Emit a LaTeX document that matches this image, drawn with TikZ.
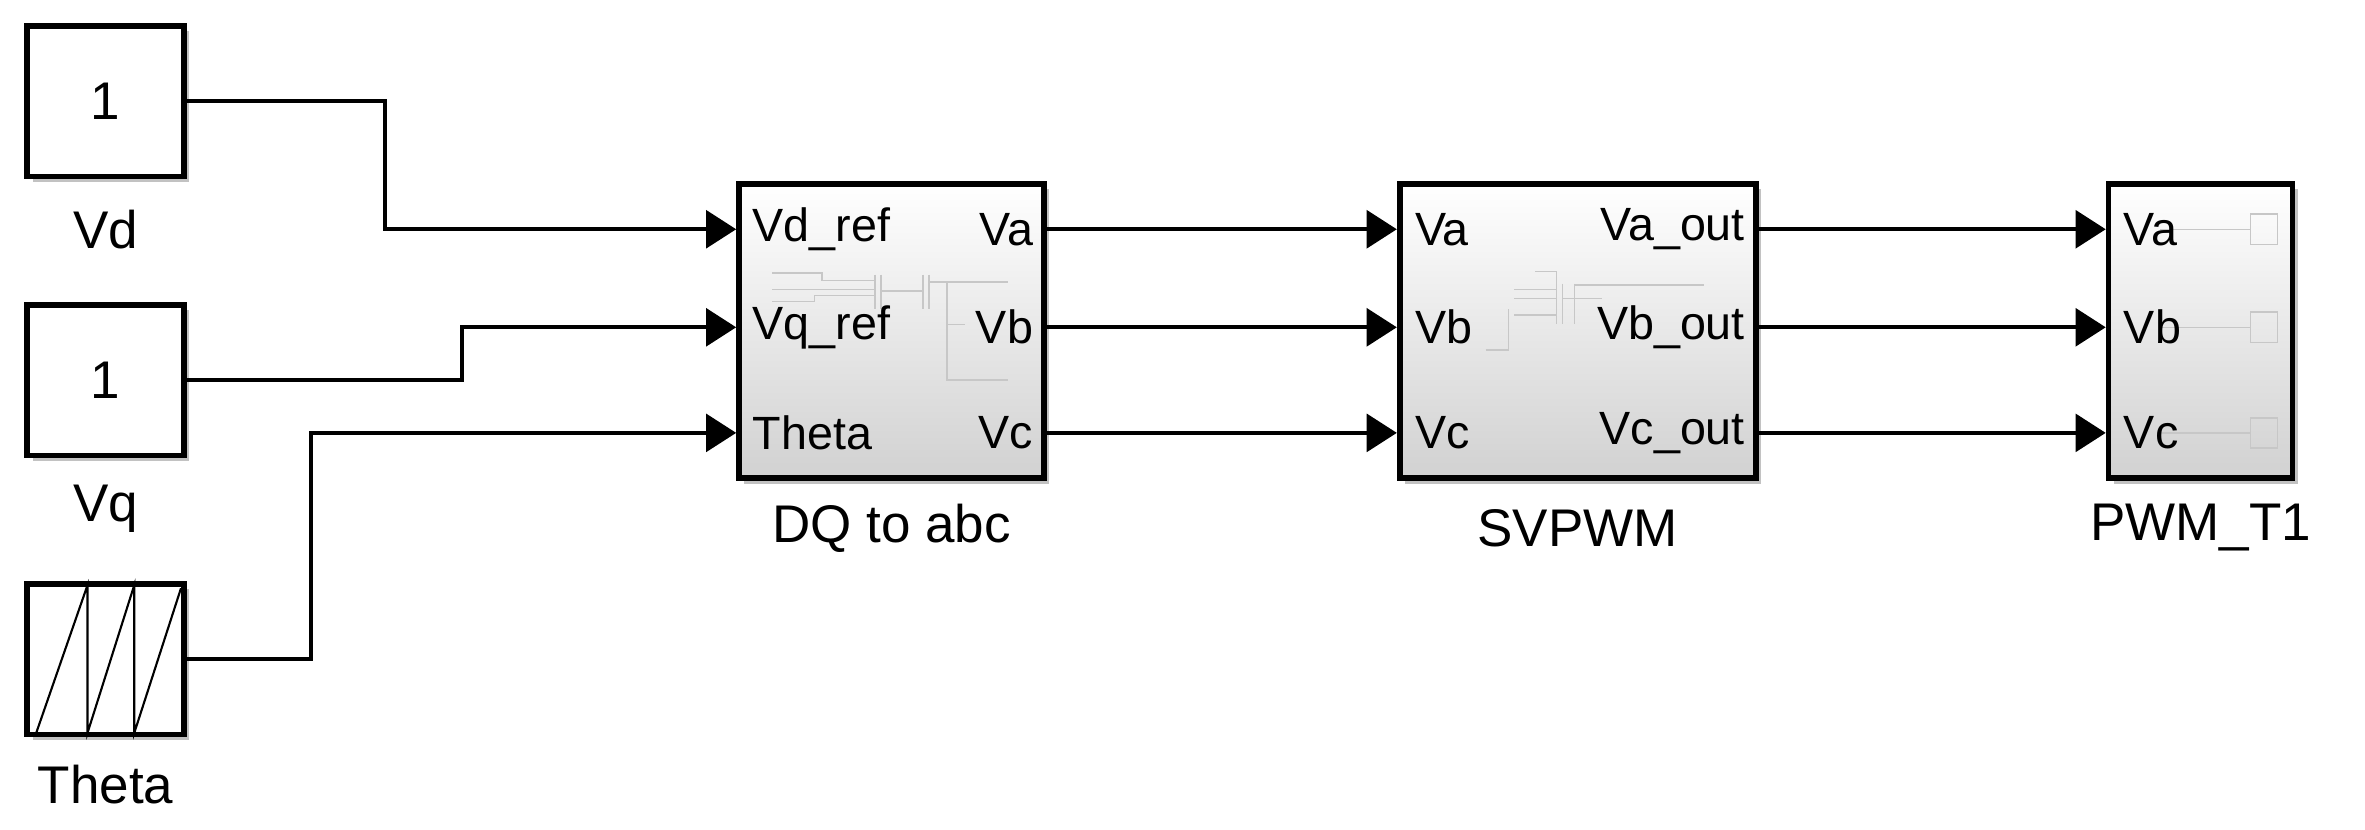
\documentclass[tikz,border=0pt]{standalone}
\usepackage{fontspec}
\setmainfont{Liberation Sans}
\usetikzlibrary{arrows.meta,shadows}
\begin{document}
\begin{tikzpicture}[x=0.5mm,y=-0.5mm,
  txt/.style={font=\fontsize{44}{50}\selectfont, inner sep=0pt},
  lbl/.style={font=\fontsize{50}{56}\selectfont, inner sep=0pt},
  src/.style={draw=black, line width=1.9mm, fill=white, minimum width=52mm, minimum height=50mm, inner sep=0pt,
     drop shadow={shadow xshift=1.8mm, shadow yshift=-1.8mm, fill=black!40, opacity=0.6}},
  blk/.style={draw=black, line width=1.9mm, top color=white, bottom color=black!18, inner sep=0pt,
     drop shadow={shadow xshift=1.8mm, shadow yshift=-1.8mm, fill=black!40, opacity=0.6}},
  wire/.style={line width=1.3mm},
  sig/.style={wire, -{Triangle[length=10mm,width=12.5mm]}},
  icon/.style={draw=black!22, line width=0.5mm}]
\useasboundingbox (0,0) rectangle (1568,550);
% sources
\node[src] (vd) at (70,67) {};
\node[lbl] at (vd.center) {1};
\node[lbl] (vdl) at (70,152) {Vd};
\node[src] (vq) at (70,252) {};
\node[lbl] at (vq.center) {1};
\node[lbl] (vql) at (70,337) {Vq};
\node[src] (th) at (70,437) {};
\node[lbl] (thl) at (70,520) {Theta};
\draw[line width=0.7mm] (24,486) -- (58,388) -- (58,486) -- (89,388) -- (89,486) -- (120,390);
% blocks
\node[blk, minimum width=101mm, minimum height=97.5mm] (dq) at (591,219.5) {};
\node[lbl] at (591,350) {DQ to abc};
\node[blk, minimum width=118mm, minimum height=97.5mm] (sv) at (1046,219.5) {};
\node[lbl] at (1046,350) {SVPWM};
\node[blk, minimum width=61mm, minimum height=97.5mm] (pw) at (1459,219.5) {};
\node[lbl] at (1459,350) {PWM\_T1};
% ports
\foreach \n/\y in {1/152,2/217,3/287}{
  \coordinate (dqi\n) at (dq.west |- 0,\y);
  \coordinate (dqo\n) at (dq.east |- 0,\y);
  \coordinate (svi\n) at (sv.west |- 0,\y);
  \coordinate (svo\n) at (sv.east |- 0,\y);
  \coordinate (pwi\n) at (pw.west |- 0,\y);
}
% icons
\draw[icon] (512,181)--(545,181)--(545,186)--(580,186) (512,192)--(580,192) (512,200)--(540,200)--(540,196)--(580,196)
  (580,182)--(580,205) (584,182)--(584,205) (584,193)--(612,193) (612,182)--(612,205) (616,182)--(616,205)
  (616,187)--(668,187) (628,187)--(628,252)--(668,252) (628,215)--(640,215);
\draw[icon] (1018,180)--(1032,180)--(1032,192)--(1004,192) (1004,198)--(1032,198) (1032,190)--(1032,215)
  (1032,209)--(1004,209) (985,232)--(1000,232)--(1000,205) (1036,188)--(1036,215) (1036,198)--(1062,198)
  (1044,188)--(1044,215) (1044,189)--(1130,189);
\foreach \y in {152,217,287}{
  \draw[icon] (1432,\y)--(1492,\y);
  \draw[icon] (1492,\y-10) rectangle (1510,\y+10);
}
% port labels
\begin{scope}[every node/.style={txt}]
\node[anchor=west] at (499,152) {Vd\_ref};
\node[anchor=west] at (499,217) {Vq\_ref};
\node[anchor=west] at (499,287) {Theta};
\node[anchor=east] at (685,152) {Va};
\node[anchor=east] at (685,217) {Vb};
\node[anchor=east] at (685,287) {Vc};
\node[anchor=west] at (938,152) {Va};
\node[anchor=west] at (938,217) {Vb};
\node[anchor=west] at (938,287) {Vc};
\node[anchor=east] at (1157,152) {Va\_out};
\node[anchor=east] at (1157,217) {Vb\_out};
\node[anchor=east] at (1157,287) {Vc\_out};
\node[anchor=west] at (1408,152) {Va};
\node[anchor=west] at (1408,217) {Vb};
\node[anchor=west] at (1408,287) {Vc};
\end{scope}
% wires
\coordinate (b1) at (255,0); \coordinate (b2) at (306,0); \coordinate (b3) at (206,0);
\draw[sig] (vd.east) -| (b1 |- dqi1) -- (dqi1);
\draw[sig] (vq.east) -| (b2 |- dqi2) -- (dqi2);
\draw[sig] (th.east) -| (b3 |- dqi3) -- (dqi3);
\foreach \n in {1,2,3}{
  \draw[sig] (dqo\n) -- (svi\n);
  \draw[sig] (svo\n) -- (pwi\n);
}
\end{tikzpicture}
\end{document}
